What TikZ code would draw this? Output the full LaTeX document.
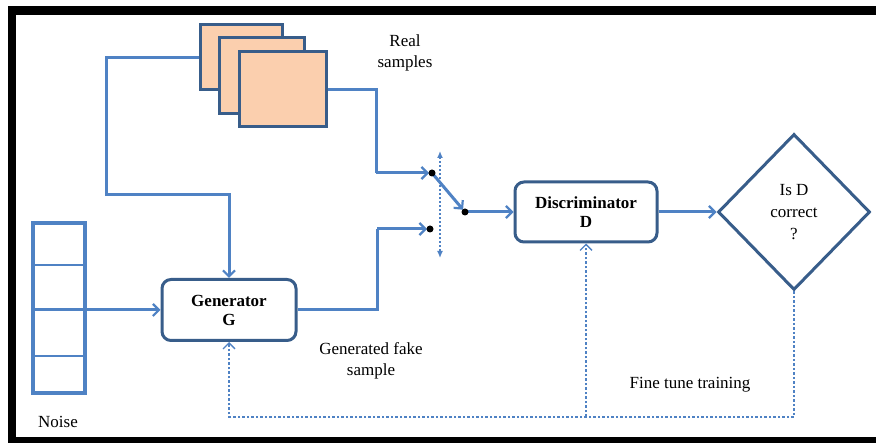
\documentclass[tikz,border=0pt]{standalone}
\usepackage{fontspec}
\setmainfont{Liberation Serif}
\usetikzlibrary{arrows.meta,shapes.geometric}
\definecolor{linkblue}{HTML}{4F82C4}
\definecolor{edgeblue}{HTML}{385D8A}
\definecolor{peach}{HTML}{FBCFAE}
\tikzset{
  txt/.style={font=\fontsize{17}{21}\selectfont, align=center, inner sep=0pt},
  block/.style={draw=edgeblue, line width=3pt, rounded corners=9pt, fill=white,
    font=\fontsize{17}{19}\selectfont\bfseries, align=center, inner sep=0pt},
  sheet/.style={draw=edgeblue, line width=3pt, fill=peach, inner sep=0pt},
  conn/.style={draw=linkblue, line width=3pt, -{Straight Barb[length=6pt,width=12pt,line width=2.2pt]}},
  plain/.style={draw=linkblue, line width=3pt},
  fbk/.style={draw=linkblue, line width=1.5pt, dash pattern=on 2.5pt off 2pt,
    -{Straight Barb[length=6pt,width=12pt,line width=1.3pt]}},
  pin/.style={fill=black},
}
\begin{document}
\begin{tikzpicture}[x=1pt,y=-1pt]
\useasboundingbox (0,0) rectangle (876,443);
\clip (0,0) rectangle (876,443);
\fill[white] (0,0) rectangle (876,443);
% outer frame
\draw[line width=8.5pt] (12,10.5) rectangle (886,441.5);

% stack of real samples
\node[sheet, minimum width=82, minimum height=65] (r1) at (241,57.5) {};
\node[sheet, minimum width=85, minimum height=76] (r2) at (261.5,76) {};
\node[sheet, minimum width=87, minimum height=75] (r3) at (282.5,89.5) {};
\node[txt] (lreal) at (405,53) {Real\\samples};

% main blocks
\node[block, minimum width=134, minimum height=61] (gen) at (229,310) {Generator\\G};
\node[block, minimum width=142, minimum height=60] (disc) at (586,212) {Discriminator\\D};
\node[diamond, draw=edgeblue, line width=3pt, minimum width=152, minimum height=156,
  inner sep=0pt, font=\fontsize{17}{22}\selectfont, align=center] (dia) at (794,212) {Is D\\correct\\?};

% noise vector
\node[draw=linkblue, line width=3.2pt, minimum width=52, minimum height=170, inner sep=0pt] (noise) at (59,308) {};
\draw[draw=linkblue, line width=2.8pt] (noise.west |- 0,265) -- (noise.east |- 0,265);
\draw[draw=linkblue, line width=2.8pt] (noise.west |- 0,356) -- (noise.east |- 0,356);
\node[txt] (lnoise) at (58,422) {Noise};

% switch contacts
\coordinate (s1) at (432,173);
\coordinate (s2) at (465,212);
\coordinate (s3) at (430,229);
\coordinate (j1) at (376,173);
\coordinate (j2) at (377,229);
\coordinate (k1) at (106,195);
\coordinate (u1) at (440,151);
\coordinate (u2) at (440,258);

% connectors
\draw[conn] (r1.west) -| (k1) -| (gen.north);
\draw[plain] (r3.east) -| (j1);
\draw[conn, shorten >=3pt] (j1) -- (s1);
\draw[plain] (gen.east) -| (j2);
\draw[conn, shorten >=3pt] (j2) -- (s3);
\draw[conn, shorten >=3pt] (s1) -- (s2);
\draw[conn] (s2) -- (disc.west);
\draw[conn] (noise.west |- gen.west) -- (gen.west);
\draw[conn] (disc.east) -- (dia.west);
\draw[draw=linkblue, line width=1.3pt, dash pattern=on 2pt off 2pt,
  {Latex[length=7pt,width=6pt]}-{Latex[length=7pt,width=6pt]}] (u1) -- (u2);

% switch pins
\fill[pin] (s1) circle (3.5);
\fill[pin] (s2) circle (3.5);
\fill[pin] (s3) circle (3.5);

% feedback path
\coordinate (b1) at (794,417);
\coordinate (b2) at (586,417);
\draw[fbk] (dia.south) -- (b1) -| (gen.south);
\draw[fbk] (b2) -- (disc.south);

% labels
\node[txt] (lfake) at (371,361) {Generated fake\\sample};
\node[txt] (ltune) at (690,385) {Fine tune training};
\end{tikzpicture}
\end{document}
